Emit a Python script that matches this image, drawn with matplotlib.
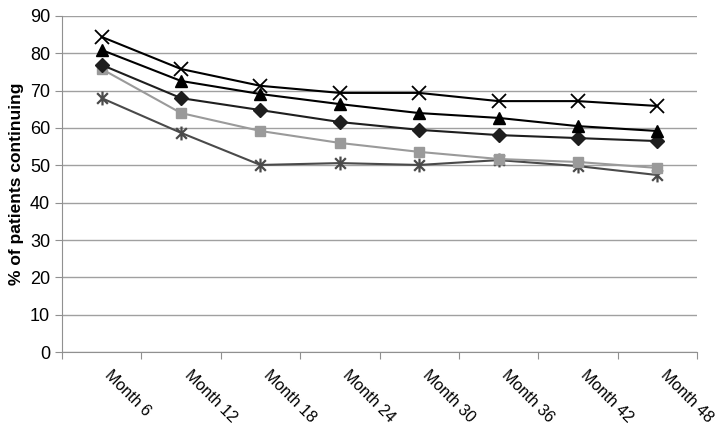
import matplotlib
matplotlib.use("Agg")
import matplotlib.pyplot as plt
from matplotlib.path import Path
from matplotlib.transforms import ScaledTranslation
import numpy as np

plt.rcParams['font.family'] = ['Liberation Sans', 'DejaVu Sans']

categories = ["Month 6", "Month 12", "Month 18", "Month 24", "Month 30", "Month 36", "Month 42", "Month 48"]
series_x = [84.4, 75.8, 71.3, 69.4, 69.4, 67.2, 67.2, 65.9]
series_tri = [80.9, 72.6, 69.1, 66.4, 64.0, 62.7, 60.5, 59.2]
series_dia = [76.9, 68.0, 64.8, 61.6, 59.5, 58.1, 57.3, 56.5]
series_sq = [75.8, 64.0, 59.2, 56.0, 53.6, 51.7, 50.9, 49.3]
series_ast = [68.0, 58.7, 50.1, 50.6, 50.1, 51.4, 49.8, 47.4]
y_ticks = [0, 10, 20, 30, 40, 50, 60, 70, 80, 90]

# asterisk marker: X with a vertical bar
ast_marker = Path([(-1, -1), (1, 1), (-1, 1), (1, -1), (0, -1.3), (0, 1.3)],
                  [Path.MOVETO, Path.LINETO, Path.MOVETO, Path.LINETO, Path.MOVETO, Path.LINETO])

fig = plt.figure(figsize=(7.2, 4.4), dpi=100)
ax = fig.add_axes([62/720, 1-352/440, (697-62)/720, (352-16)/440])

x = np.arange(len(categories))
ax.plot(x, series_ast, color='#4a4a4a', marker=ast_marker, markersize=10, markeredgewidth=1.6, lw=1.5, zorder=3)
ax.plot(x, series_sq, color='#9a9a9a', marker='s', markersize=7, lw=1.5, zorder=3)
ax.plot(x, series_dia, color='#1e1e1e', marker='D', markersize=7, lw=1.5, zorder=4)
ax.plot(x, series_tri, color='black', marker='^', markersize=8, lw=1.5, zorder=4)
ax.plot(x, series_x, color='black', marker='x', markersize=10, markeredgewidth=1.3, lw=1.5, zorder=4)

ax.set_xlim(-0.5, len(categories) - 0.5)
ax.set_ylim(0, 90)
ax.set_yticks(y_ticks)
ax.yaxis.grid(True, color='#a0a0a0', lw=1)
ax.set_axisbelow(True)
for s in ['top', 'right']:
    ax.spines[s].set_visible(False)
for s in ['left', 'bottom']:
    ax.spines[s].set_color('#909090')

ax.set_xticks(np.arange(-0.5, len(categories) + 0.5, 1))
ax.set_xticklabels([])
ax.tick_params(axis='x', which='major', length=5, color='#909090')
ax.set_xticks(x, minor=True)
ax.set_xticklabels(categories, minor=True, rotation=-45, ha='left', va='top',
                   rotation_mode='anchor', fontsize=11.5)
ax.tick_params(axis='x', which='minor', length=0, pad=11)
off = ScaledTranslation(11/100, 0, fig.dpi_scale_trans)
for lab in ax.get_xticklabels(minor=True):
    lab.set_transform(lab.get_transform() + off)
ax.tick_params(axis='y', length=5, color='#909090', labelsize=13)
ax.set_ylabel('% of patients continuing', fontsize=12.5, fontweight='bold', labelpad=4)

fig.savefig('out.png', dpi=100)
